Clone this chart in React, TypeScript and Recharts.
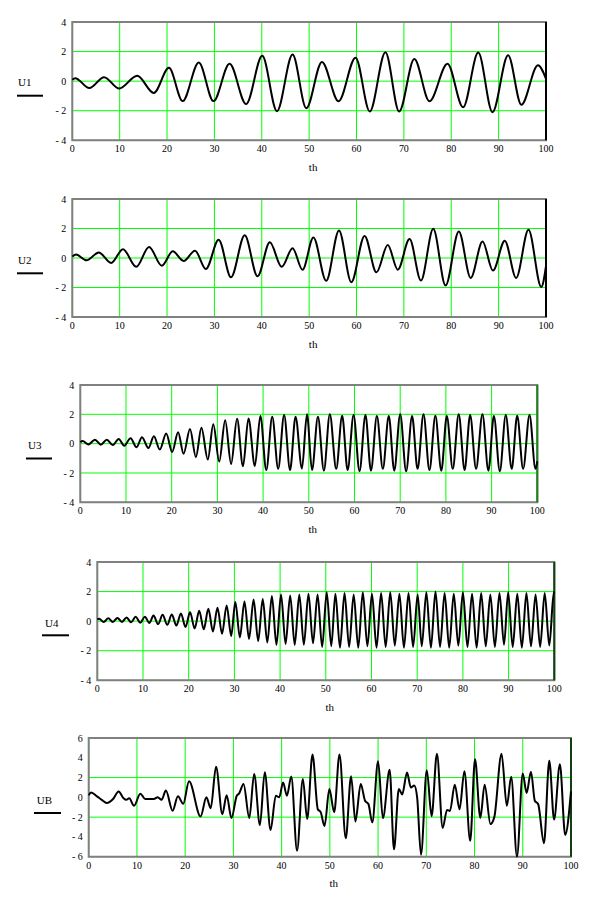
import { LineChart, Line, XAxis, YAxis, CartesianGrid, ReferenceArea, ReferenceLine } from "recharts";

// [th, value] pairs (turning points mostly)
const u1Points: [number, number][] = [
  [0, 0.1], [0.6, 0.2], [3.6, -0.47], [6.7, 0.27], [9.9, -0.5], [13.7, 0.36], [17.2, -0.8],
  [20.4, 0.9], [23.3, -1.35], [26.7, 1.26], [29.8, -1.35], [33.2, 1.17], [36.7, -1.55],
  [40.1, 1.71], [43.2, -2.03], [46.5, 1.8], [49.4, -1.83], [52.7, 1.3], [56.2, -1.36],
  [59.8, 1.59], [62.8, -2.05], [66.1, 1.95], [69, -2.05], [72.2, 1.5], [75.4, -1.36],
  [79.2, 1.18], [82.5, -1.77], [85.7, 1.93], [88.7, -2.1], [92, 1.75], [94.8, -1.6],
  [98.3, 1.07], [100, 0.15],
];

const u2Points: [number, number][] = [
  [0, 0.1], [0.8, 0.23], [3.0, -0.16], [5.6, 0.38], [8.2, -0.34], [10.7, 0.6], [13.5, -0.6],
  [16.2, 0.75], [18.9, -0.52], [21.2, 0.45], [23.5, -0.2], [25.9, 0.5], [28.2, -0.75],
  [30.9, 1.24], [33.5, -1.31], [36.4, 1.54], [39.1, -1.24], [41.7, 1.06], [44.2, -0.6],
  [46.5, 0.66], [48.6, -0.8], [50.9, 1.39], [53.6, -1.55], [56.3, 1.87], [58.9, -1.64],
  [61.7, 1.5], [64.2, -0.97], [66.6, 0.88], [68.7, -0.79], [71.2, 1.28], [73.6, -1.53],
  [76.2, 1.98], [78.8, -1.87], [81.6, 1.8], [84.1, -1.35], [86.6, 1.12], [88.8, -0.85],
  [91.3, 1.17], [93.7, -1.35], [96.3, 1.91], [99, -1.96], [100, -0.56],
];

const u3Points: [number, number][] = [
  [0, 0.1], [0.5, 0.18], [1.8, -0.05], [3.2, 0.27], [4.5, -0.07], [5.8, 0.27], [7.1, -0.1],
  [8.4, 0.32], [9.6, -0.14], [11.0, 0.37], [12.3, -0.25], [13.5, 0.44], [14.9, -0.3],
  [16.1, 0.5], [17.4, -0.4], [18.8, 0.69], [20.1, -0.57], [21.4, 0.78], [22.6, -0.69],
  [24.0, 1.0], [25.3, -0.92], [26.5, 1.08], [27.9, -1.08], [29.1, 1.33], [30.4, -1.22],
  [31.7, 1.6], [33.0, -1.38], [34.3, 1.7], [35.6, -1.54], [36.8, 1.72], [38.2, -1.52],
  [39.4, 1.88], [40.7, -1.8], [42.0, 1.84], [43.3, -1.72], [44.6, 1.95], [45.9, -1.8],
  [47.1, 1.84], [48.5, -1.7], [49.6, 2.0], [50.7, -1.8], [52.0, 1.84], [53.3, -1.84],
  [54.6, 2.0], [56.0, -1.72], [57.3, 1.9], [58.5, -1.8], [59.8, 1.95], [61.1, -1.88],
  [62.4, 1.95], [63.6, -1.84], [64.9, 1.88], [66.2, -1.72], [67.5, 1.88], [68.7, -1.84],
  [70.0, 2.0], [71.3, -1.88], [72.6, 1.88], [73.8, -1.72], [75.1, 2.0], [76.4, -1.8],
  [77.7, 1.9], [79.0, -1.84], [80.2, 1.88], [81.5, -1.72], [82.8, 2.0], [84.1, -1.8],
  [85.3, 1.95], [86.6, -1.72], [88.0, 2.0], [89.3, -1.84], [90.5, 1.88], [91.8, -1.88],
  [93.1, 1.95], [94.4, -1.72], [95.6, 1.9], [96.9, -1.72], [98.3, 1.95], [99.6, -1.72],
  [100, -1.2],
];

const u4Points: [number, number][] = [
  [0, 0.12], [0.4, 0.16], [1.4, -0.05], [2.4, 0.2], [3.4, -0.05], [4.4, 0.22], [5.4, -0.05],
  [6.4, 0.25], [7.4, -0.08], [8.4, 0.3], [9.4, -0.1], [10.4, 0.3], [11.4, -0.12],
  [12.3, 0.38], [13.3, -0.2], [14.3, 0.43], [15.3, -0.25], [16.3, 0.45], [17.3, -0.3],
  [18.3, 0.52], [19.3, -0.4], [20.3, 0.6], [21.3, -0.5], [22.3, 0.7], [23.3, -0.55],
  [24.3, 0.84], [25.3, -0.7], [26.3, 0.9], [27.3, -0.85], [28.3, 1.06], [29.3, -1.0],
  [30.2, 1.3], [31.2, -1.1], [32.2, 1.33], [33.2, -1.2], [34.2, 1.47], [35.2, -1.35],
  [36.2, 1.5], [37.2, -1.45], [38.2, 1.7], [39.2, -1.6], [40.2, 1.8], [41.2, -1.55],
  [42.2, 1.74], [43.2, -1.6], [44.2, 1.8], [45.2, -1.6], [46.2, 1.85], [47.2, -1.5],
  [48.2, 1.8], [49.2, -1.75], [50.2, 1.95], [51.2, -1.7], [52.1, 1.85], [53.1, -1.8],
  [54.1, 1.9], [55.1, -1.75], [56.1, 1.8], [57.1, -1.8], [58.1, 1.95], [59.1, -1.7],
  [60.1, 1.85], [61.1, -1.8], [62.1, 1.9], [63.1, -1.75], [64.1, 1.95], [65.1, -1.65],
  [66.1, 1.85], [67.1, -1.8], [68.1, 1.9], [69.1, -1.75], [70.1, 1.8], [71.0, -1.7],
  [72.0, 1.95], [73.0, -1.8], [74.0, 2.0], [75.0, -1.75], [76.0, 1.9], [77.0, -1.8],
  [78.0, 1.85], [79.0, -1.65], [80.0, 1.95], [81.0, -1.75], [82.0, 1.85], [83.0, -1.8],
  [84.0, 1.9], [85.0, -1.7], [86.0, 1.8], [87.0, -1.75], [88.0, 1.9], [89.0, -1.6],
  [89.9, 1.95], [90.9, -1.75], [91.9, 1.85], [92.9, -1.8], [93.9, 1.9], [94.9, -1.7],
  [95.9, 1.8], [96.9, -1.75], [97.9, 1.9], [98.9, -1.65], [99.9, 1.95], [100, 1.9],
];

const ubPoints: [number, number][] = [
  [0, 0.2], [0.5, 0.5], [1.7, 0.1], [2.7, -0.25], [3.75, -0.57], [5, -0.2], [6.2, 0.6],
  [7.2, -0.07], [7.8, -0.25], [8.4, -0.1], [9.4, -0.85], [10.7, 0.37], [11.7, -0.17],
  [13.5, -0.17], [14.3, 0], [15.1, -0.25], [16.0, 0.68], [17.4, -1.35], [18.5, 0.1],
  [19.6, -0.65], [20.8, 1.62], [23.2, -1.93], [24.4, 0], [25.3, -1.1], [26.4, 3.1],
  [27.7, -1.7], [28.6, 0.2], [29.6, -2.1], [30.7, 0.17], [31.2, 0.4], [32.1, 1.36],
  [33.3, -2.1], [34.3, 2.37], [35.5, -2.8], [36.5, 2.54], [37.7, -3.3], [38.8, 0.17],
  [39.5, 0], [40.3, 1.5], [41.1, 0.17], [42.0, 2.1], [43.2, -5.4], [44.4, 1.86],
  [45.3, -2.2], [46.4, 4.34], [47.5, -1.2], [48.1, -1.5], [48.9, -2.9], [49.9, 0.85],
  [50.9, -1.5], [52.0, 4.34], [53.3, -4.14], [54.4, 2.14], [55.3, -2.44], [56.4, 1.36],
  [57.3, -0.34], [58.0, -0.68], [58.8, -2.54], [60.0, 3.66], [61.0, -2.1], [62.4, 2.78],
  [63.3, -5.25], [64.3, 0.85], [65.0, 0.3], [66.0, 2.5], [66.8, 1.0], [67.5, 1.2],
  [68.1, 0], [68.9, -5.8], [70.1, 2.75], [71.1, -1.9], [72.2, 4.4], [73.4, -3.1],
  [74.3, -1.27], [74.9, -1.38], [75.9, 1.27], [76.9, -1.2], [77.9, 2.65], [79.1, -4.4],
  [80.1, 3.86], [81.2, -2.07], [82.1, 1.27], [83.3, -2.7], [84.1, -2.0], [85.6, 4.4],
  [86.7, -0.86], [87.6, 2.07], [88.8, -6.0], [90.0, 2.4], [90.8, 0.45], [91.7, 2.6],
  [92.5, -0.34], [93.2, -0.7], [94.4, -4.65], [95.5, 3.7], [96.5, -2.24], [97.7, 3.35],
  [98.8, -3.8], [100, 0.6],
];

const xTicks = [0, 10, 20, 30, 40, 50, 60, 70, 80, 90, 100];
const yTicks4 = [-4, -2, 0, 2, 4];
const yTicks6 = [-6, -4, -2, 0, 2, 4, 6];

const FONT = "'Liberation Serif', 'Times New Roman', serif";
const GREEN = "#00ff00";

const fmt = (v: number) => (v < 0 ? `- ${-v}` : String(v));

interface PanelProps {
  points: [number, number][];
  yTicks: number[];
  left: number;
  right: number;
  top: number;
  bottom: number;
  edge: string;
}

const Panel = ({ points, yTicks, left, right, top, bottom, edge }: PanelProps) => {
  const data = points.map(([x, y]) => ({ x, y }));
  const yMax = yTicks[yTicks.length - 1];
  const tick = { fontFamily: FONT, fontSize: 10, fill: "#000" };
  return (
    <div style={{ position: "absolute", left: 0, top: top - 10 }}>
      <LineChart
        width={600}
        height={bottom - top + 50}
        data={data}
        margin={{ top: 10, right: 600 - right, bottom: 0, left: 0 }}
      >
        <CartesianGrid stroke={GREEN} strokeWidth={1} />
        <XAxis
          type="number" dataKey="x" domain={[0, 100]} ticks={xTicks} height={40}
          axisLine={false} tickLine={false} tickSize={0} tickMargin={5} tick={tick}
          label={{ value: "th", position: "insideTop", offset: 23, dx: 4, style: { fontFamily: FONT, fontSize: 11, fill: "#000" } }}
        />
        <YAxis
          type="number" domain={[-yMax, yMax]} ticks={yTicks} width={left}
          axisLine={false} tickLine={false} tickSize={0} tickMargin={6} tick={tick}
          tickFormatter={fmt}
        />
        <ReferenceArea x1={0} x2={100} y1={-yMax} y2={yMax} fill="none" stroke="#808080" strokeWidth={2} />
        <ReferenceLine x={100} stroke={edge} strokeWidth={2} />
        <Line type="monotone" dataKey="y" stroke="#000" strokeWidth={2} dot={false} isAnimationActive={false} />
      </LineChart>
    </div>
  );
};

const labels = [
  { text: "U1", x: 18, y: 86, x1: 17, x2: 43, ly: 95.7 },
  { text: "U2", x: 18, y: 264, x1: 17, x2: 43, ly: 273.3 },
  { text: "U3", x: 28, y: 449, x1: 26, x2: 52, ly: 458.5 },
  { text: "U4", x: 45, y: 626.7, x1: 42, x2: 69, ly: 635.3 },
  { text: "UB", x: 36.7, y: 804, x1: 34, x2: 61, ly: 813 },
];

export default function App() {
  return (
    <div style={{ position: "relative", width: 600, height: 899, background: "#fff" }}>
      <style>{"body{margin:0}"}</style>
      <Panel points={u1Points} yTicks={yTicks4} left={72.3} right={546} top={21.7} bottom={140} edge="#000" />
      <Panel points={u2Points} yTicks={yTicks4} left={72.3} right={546} top={199.3} bottom={317.3} edge="#000" />
      <Panel points={u3Points} yTicks={yTicks4} left={80.3} right={537.3} top={385} bottom={502.3} edge="#208020" />
      <Panel points={u4Points} yTicks={yTicks4} left={97.3} right={554.3} top={561.7} bottom={680} edge="#104010" />
      <Panel points={ubPoints} yTicks={yTicks6} left={88.7} right={571} top={738.3} bottom={857} edge="#104010" />
      <svg width={600} height={899} style={{ position: "absolute", left: 0, top: 0, pointerEvents: "none" }}>
        {labels.map((l) => (
          <g key={l.text}>
            <text x={l.x} y={l.y} fontFamily={FONT} fontSize={11} fill="#000">{l.text}</text>
            <line x1={l.x1} x2={l.x2} y1={l.ly} y2={l.ly} stroke="#000" strokeWidth={2} />
          </g>
        ))}
      </svg>
    </div>
  );
}
